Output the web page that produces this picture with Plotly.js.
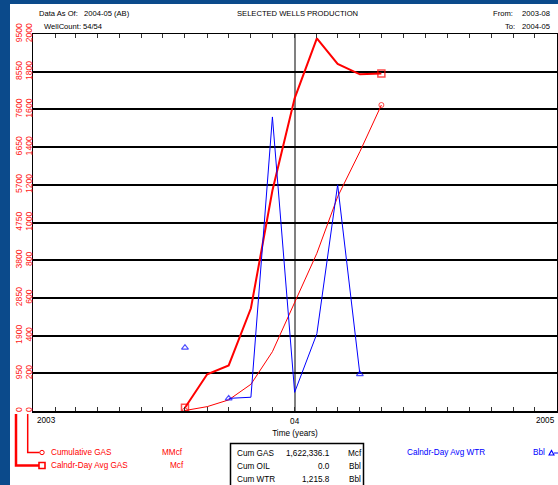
<!DOCTYPE html>
<html>
<head>
<meta charset="utf-8">
<script src="https://cdn.plot.ly/plotly-3.0.1.min.js"></script>
<style>
  html, body { margin:0; padding:0; background:#0b4a8b; width:558px; height:485px; overflow:hidden; }
  #chart { position:absolute; left:10px; top:4px; width:548px; height:481px; background:#fff; }
</style>
</head>
<body>
<div id="chart"></div>
<script>
// ---- data ----
const months = ['2003-08-01','2003-09-01','2003-10-01','2003-11-01','2003-12-01',
                '2004-01-01','2004-02-01','2004-03-01','2004-04-01','2004-05-01'];
// Calndr-Day Avg GAS (Mcf)
const avgGas = [17, 195, 242, 545, 1170, 1659, 1977, 1841, 1786, 1791];
// Cumulative GAS (MMcf)
const cumGas = [12, 110, 280, 673, 1494, 2714, 3974, 5400, 6534, 7711];
// Calndr-Day Avg WTR (Bbl)
const avgWtr = [3.36, null, 0.67, 0.73, 15.6, 0.99, 4.1, 12.0, 1.96, null];

const xTickVals = ['2003-01-01','2004-01-01','2005-01-01'];
const xTickText = ['2003','04','2005'];
const gasTickVals = [0,200,400,600,800,1000,1200,1400,1600,1800,2000];
const cumTickVals = [0,950,1900,2850,3800,4750,5700,6650,7600,8550,9500];

// ---- helpers ----
const FONT = "'Liberation Sans', Arial, sans-serif";
// page pixel -> paper coords (plot area: x 33..557, y 34..411 on the page)
const PX0 = 33, PW = 524, PY0 = 411, PH = 377;
const px = x => (x - PX0) / PW;
const py = y => (PY0 - y) / PH;

// markers only at segment ends
function endSizes(arr, s) {
  return arr.map((v, i) => {
    if (v === null) return 0;
    const prev = i > 0 ? arr[i-1] : null;
    const next = i < arr.length - 1 ? arr[i+1] : null;
    return (prev === null || next === null) ? s : 0;
  });
}

const traces = [
  { x: months, y: avgGas, yaxis: 'y', type: 'scatter', mode: 'lines+markers',
    line: { color: '#ff0000', width: 2 },
    marker: { symbol: 'square-open', size: endSizes(avgGas, 7), color: '#ff0000', line: { width: 1.5, color: '#ff0000' } },
    hoverinfo: 'skip' },
  { x: months, y: cumGas, yaxis: 'y2', type: 'scatter', mode: 'lines+markers',
    line: { color: '#ff0000', width: 1 },
    marker: { symbol: 'circle-open', size: endSizes(cumGas, 5), color: '#ff0000', line: { width: 1, color: '#ff0000' } },
    hoverinfo: 'skip' },
  { x: months, y: avgWtr, xaxis: 'x2', yaxis: 'y3', type: 'scatter', mode: 'lines+markers',
    connectgaps: false,
    line: { color: '#0000ff', width: 1 },
    marker: { symbol: 'triangle-up-open', size: endSizes(avgWtr, 6), color: '#0000ff', line: { width: 1.2, color: '#0000ff' } },
    hoverinfo: 'skip' }
];

function ann(text, x, y, xanchor, color, size) {
  return { text: text, xref: 'paper', yref: 'paper', x: px(x), y: py(y),
           xanchor: xanchor, yanchor: 'middle', showarrow: false,
           font: { family: FONT, size: size || 8.2, color: color || '#000' } };
}

const HS = 7.6;
const annotations = [
  ann('Data As Of:', 37, 14, 'left', '#000', HS),
  ann('2004-05 (AB)', 82, 14, 'left', '#000', HS),
  ann('WellCount:', 42, 26, 'left', '#000', HS),
  ann('54/54', 81, 26, 'left', '#000', HS),
  ann('SELECTED WELLS PRODUCTION', 297, 14, 'center', '#000', HS),
  ann('From:', 491, 14, 'left', '#000', HS),
  ann('2003-08', 552, 14, 'right', '#000', HS),
  ann('To:', 503, 26, 'left', '#000', HS),
  ann('2004-05', 552, 26, 'right', '#000', HS),

  // end tick labels of the time axis (aligned inside the plot edges)
  ann(xTickText[0], 35, 420.5, 'left'),
  ann(xTickText[2], 557, 420.5, 'right'),

  ann('Cumulative GAS', 49, 452.5, 'left', '#ff0000'),
  ann('MMcf', 185, 452.5, 'right', '#ff0000'),
  ann('Calndr-Day Avg GAS', 49, 465.5, 'left', '#ff0000'),
  ann('Mcf', 186, 465.5, 'right', '#ff0000'),

  ann('Cum GAS', 235, 453, 'left'),
  ann('1,622,336.1', 332, 453, 'right'),
  ann('Mcf', 346, 453, 'left'),
  ann('Cum OIL', 235, 466, 'left'),
  ann('0.0', 332, 466, 'right'),
  ann('Bbl', 347, 466, 'left'),
  ann('Cum WTR', 235, 479, 'left'),
  ann('1,215.8', 332, 479, 'right'),
  ann('Bbl', 347, 479, 'left'),

  ann('Calndr-Day Avg WTR', 405, 452.5, 'left', '#0000ff'),
  ann('Bbl', 531, 452.5, 'left', '#0000ff')
];

function path(points) {
  return points.map((p, i) => (i ? 'L' : 'M') + px(p[0]) + ',' + py(p[1])).join(' ');
}

const shapes = [
  // legend brackets
  { type: 'path', xref: 'paper', yref: 'paper', path: path([[16,414],[16,465.5],[39,465.5]]),
    line: { color: '#ff0000', width: 2.5 } },
  { type: 'rect', xref: 'paper', yref: 'paper', x0: px(39), x1: px(45), y0: py(462.5), y1: py(468.5),
    line: { color: '#ff0000', width: 1.6 } },
  { type: 'path', xref: 'paper', yref: 'paper', path: path([[27.7,414],[27.7,452.5],[39.5,452.5]]),
    line: { color: '#ff0000', width: 1.5 } },
  { type: 'circle', xref: 'paper', yref: 'paper', x0: px(39.8), x1: px(44.2), y0: py(450.3), y1: py(454.7),
    line: { color: '#ff0000', width: 1 } },
  // water legend symbol
  { type: 'path', xref: 'paper', yref: 'paper', path: path([[549,455],[551.5,450.5],[554,455]]) + ' Z',
    line: { color: '#0000ff', width: 1.1 } },
  { type: 'path', xref: 'paper', yref: 'paper', path: path([[554,453],[558,453]]),
    line: { color: '#0000ff', width: 1 } },
  // cum box
  { type: 'rect', xref: 'paper', yref: 'paper', x0: px(230.5), x1: px(363.5), y0: py(492), y1: py(443.5),
    line: { color: '#000', width: 1.5 } }
];

const minorTicks = { dtick: 'M1', tick0: '2003-01-01', ticks: 'inside', ticklen: 4, tickcolor: '#333', showgrid: false };

const layout = {
  width: 548, height: 481,
  margin: { l: 23, r: 1, t: 30, b: 74 },
  paper_bgcolor: '#ffffff', plot_bgcolor: '#ffffff',
  showlegend: false,
  font: { family: FONT, size: 8.2, color: '#000' },
  xaxis: {
    type: 'date', range: ['2003-01-01', '2005-01-01'],
    tickmode: 'array', tickvals: xTickVals,
    ticktext: ['', xTickText[1], ''],
    ticklabelstandoff: 2,
    ticks: 'inside', ticklen: 4, tickwidth: 1, tickcolor: '#333',
    showline: true, linecolor: '#000', linewidth: 1.5, mirror: true,
    showgrid: true, gridcolor: '#808080', gridwidth: 2, zeroline: false,
    minor: minorTicks,
    tickfont: { family: FONT, size: 8.2, color: '#000' },
    title: { text: 'Time (years)', font: { family: FONT, size: 8.2, color: '#000' }, standoff: 5 },
    fixedrange: true
  },
  xaxis2: {
    type: 'date', range: ['2003-01-01', '2005-01-01'],
    overlaying: 'x', side: 'top', anchor: 'y3',
    tickmode: 'array', tickvals: xTickVals, showticklabels: false,
    ticks: 'inside', ticklen: 4, tickwidth: 1, tickcolor: '#333',
    showline: false, showgrid: false, zeroline: false,
    minor: minorTicks, fixedrange: true
  },
  yaxis: {
    range: [0, 2000], tickmode: 'array', tickvals: gasTickVals,
    showgrid: true, gridcolor: '#000', gridwidth: 2, zeroline: false,
    showline: true, linecolor: '#000', linewidth: 1.5, mirror: true,
    ticks: '', tickangle: -90, ticklabelstandoff: -4,
    tickfont: { family: FONT, size: 8.6, color: '#ff2020' },
    fixedrange: true
  },
  yaxis2: {
    overlaying: 'y', side: 'left', anchor: 'x',
    range: [0, 9500], tickmode: 'array', tickvals: cumTickVals,
    showgrid: false, zeroline: false, showline: false, ticks: '', tickangle: -90,
    ticklabelstandoff: 8,
    tickfont: { family: FONT, size: 8.6, color: '#ff2020' },
    fixedrange: true
  },
  yaxis3: { overlaying: 'y', range: [0, 20], visible: false, fixedrange: true },
  annotations: annotations,
  shapes: shapes
};

Plotly.newPlot('chart', traces, layout, { displayModeBar: false, staticPlot: true });
</script>
</body>
</html>
